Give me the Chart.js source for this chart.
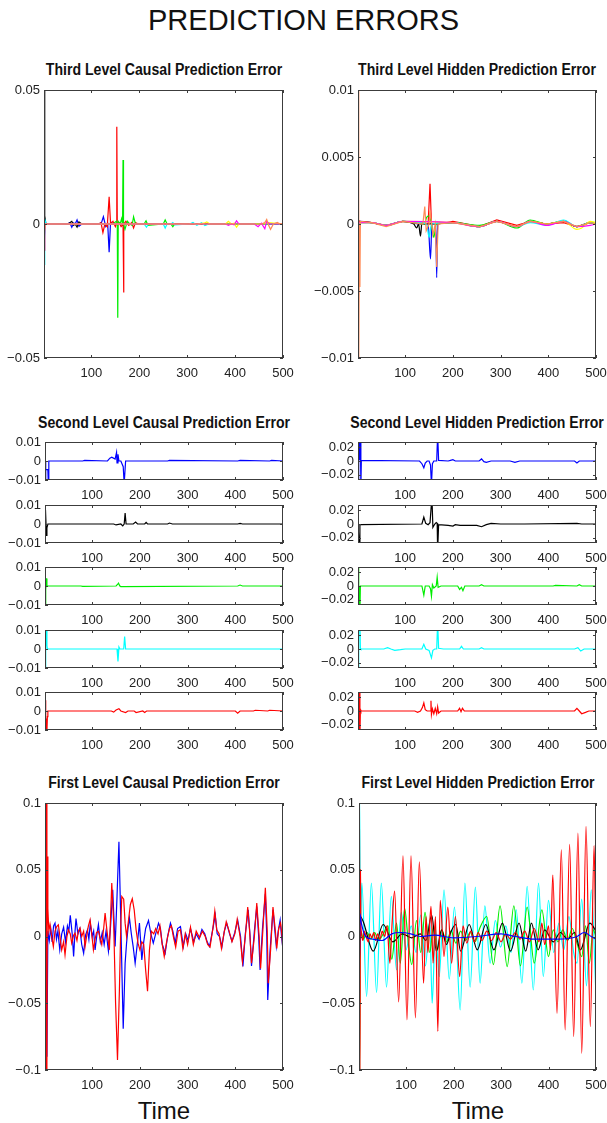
<!DOCTYPE html>
<html>
<head>
<meta charset="utf-8">
<title>Prediction errors</title>
<script src="https://cdn.jsdelivr.net/npm/chart.js@4.4.1/dist/chart.umd.min.js"></script>
<style>
  html, body { margin: 0; padding: 0; background: #fff; }
  #page { position: relative; width: 607px; height: 1123px; overflow: hidden; font-family: "Liberation Sans", Arial, sans-serif; color: #111; }
  #page canvas { position: absolute; }
  .txt { position: absolute; width: 320px; text-align: center; white-space: nowrap; line-height: 1; }
  .main { font-size: 29px; width: 607px; left: 0; }
  .sub { font-weight: bold; font-size: 16px; transform: scaleX(0.88); }
  .time { font-size: 24px; }
</style>
</head>
<body>
<div id="page">
  <div class="txt main" style="top:6px">PREDICTION ERRORS</div>
  <div class="txt sub" style="left:4px;top:62px">Third Level Causal Prediction Error</div>
  <div class="txt sub" style="left:317px;top:62px">Third Level Hidden Prediction Error</div>
  <div class="txt sub" style="left:4px;top:415px">Second Level Causal Prediction Error</div>
  <div class="txt sub" style="left:317px;top:415px">Second Level Hidden Prediction Error</div>
  <div class="txt sub" style="left:4px;top:775px">First Level Causal Prediction Error</div>
  <div class="txt sub" style="left:318px;top:775px">First Level Hidden Prediction Error</div>
  <div class="txt time" style="left:4px;top:1099px">Time</div>
  <div class="txt time" style="left:318px;top:1099px">Time</div>
</div>
<script>
// tick values
const timeTicks = [100, 200, 300, 400, 500];
const c3Ticks = [-0.05, 0, 0.05];
const h3Ticks = [-0.01, -0.005, 0, 0.005, 0.01];
const c2Ticks = [-0.01, 0, 0.01];
const h2Ticks = [-0.02, 0, 0.02];
const c1Ticks = [-0.1, -0.05, 0, 0.05, 0.1];

// third level, causal errors
const c3BlueT = [1, 2, 4, 50, 55, 59, 63, 66, 70, 74, 80, 115, 121, 125, 130, 134, 137, 140, 145, 160, 500];
const c3BlueV = [0, -0.004, 0, 0, 0.0005, -0.0012, 0.0004, 0, 0.0015, -0.0008, 0, 0, 0.0005, 0.0027, -0.001, 0, -0.0105, 0.0008, 0, 0, 0];
const c3BlackT = [1, 2, 3, 5, 50, 55, 59, 63, 66, 70, 74, 80, 500];
const c3BlackV = [0, 0.05, 0.003, 0, 0, 0.0005, 0.001, -0.0005, 0, -0.0012, 0.0008, 0, 0];
const c3RedT = [1, 2, 4, 115, 120, 124, 128, 133, 137, 140, 145, 150, 152, 153, 154, 158, 162, 166, 167, 168, 172, 178, 184, 188, 192, 198, 500];
const c3RedV = [0, -0.002, 0, 0, 0.0005, -0.0032, 0, -0.001, 0.0102, 0, 0.001, -0.001, 0, 0.0363, 0, 0.0005, -0.001, 0, -0.0256, 0, 0.001, -0.0005, 0.0005, -0.0015, 0.0005, 0, 0];
const c3GreenT = [1, 3, 145, 152, 154, 155, 156, 160, 163, 165, 166, 167, 170, 175, 180, 185, 188, 192, 210, 214, 218, 250, 254, 258, 266, 270, 274, 500];
const c3GreenV = [0, 0, 0, 0.001, 0, -0.035, 0.001, 0, 0.002, 0, 0.0239, 0, -0.002, 0.001, 0, -0.0005, 0.0027, 0, 0, 0.0012, -0.0005, 0, 0.0015, 0, 0, -0.001, 0, 0];
const c3CyanT = [1, 2, 3, 4, 6, 210, 215, 219, 250, 254, 258, 266, 270, 274, 305, 312, 320, 330, 337, 345, 500];
const c3CyanV = [0, -0.0153, -0.006, 0.001, 0, 0, -0.0012, 0, 0, -0.0015, 0, 0, 0.0005, -0.0003, 0, 0.0006, -0.0005, 0.0005, -0.0006, 0, 0];
const c3YellowT = [1, 320, 335, 341, 347, 380, 386, 392, 398, 403, 408, 460, 470, 500];
const c3YellowV = [0, 0, 0.0003, 0.0008, 0, 0, 0.001, 0, 0.0003, -0.0012, 0, 0, 0.0005, 0];
const c3MagentaT = [1, 2, 3, 4, 380, 386, 392, 398, 403, 408, 440, 448, 455, 462, 466, 472, 500];
const c3MagentaV = [0, -0.01, -0.002, 0, 0, -0.0005, 0, -0.0003, 0.0012, 0, 0, -0.001, 0.0003, -0.0018, 0.001, 0, 0];
const c3OrangeT = [1, 2, 3, 4, 455, 462, 466, 470, 474, 480, 488, 494, 500];
const c3OrangeV = [0, -0.01, -0.003, 0, 0, 0.0005, 0.0017, -0.0005, -0.002, 0, 0.0006, 0, 0.0002];

// third level, hidden errors
const h3BlueT = [1, 2, 3, 5, 30, 60, 95, 130, 148, 153, 156, 164, 166, 168, 200, 256, 292, 334, 362, 397, 432, 460, 488, 500];
const h3BlueV = [0, 0, -0.0012, 0.0002, 0.0001, -0.0001, 0.0002, 0, 0, -0.0026, 0, 0, -0.004, 0, 0.0001, -0.0002, 0.0002, -0.0002, 0.0002, 0, 0.0002, -0.0002, 0.0001, 0];
const h3BlackT = [1, 4, 30, 60, 95, 118, 124, 128, 132, 135, 140, 200, 256, 292, 334, 362, 397, 432, 460, 488, 500];
const h3BlackV = [0.0003, 0.0002, 0.0001, -0.0001, 0.0002, 0, -0.0003, 0, -0.0009, 0.0001, 0, 0.0001, -0.0002, 0.0002, -0.0002, 0.0002, 0, 0.0002, -0.0002, 0.0001, 0];
const h3RedT = [1, 4, 30, 60, 95, 140, 148, 152, 155, 160, 170, 200, 256, 292, 334, 362, 397, 432, 460, 488, 500];
const h3RedV = [0, 0.0002, 0.0001, -0.0001, 0.0002, 0, 0, 0.003, 0, 0, 0, 0.0002, -0.0002, 0.0003, -0.0001, 0.0002, 0, 0.0001, -0.0002, 0.0001, 0];
const h3GreenT = [1, 4, 30, 60, 95, 140, 145, 150, 155, 160, 165, 200, 256, 292, 334, 362, 397, 432, 460, 488, 500];
const h3GreenV = [0, 0.0001, 0.0001, -0.0001, 0.0002, 0, 0.0005, 0.0006, 0, -0.001, 0, 0.0001, -0.0001, 0.0002, -0.0003, 0.0003, 0, 0.0002, -0.0002, 0.0001, 0];
const h3CyanT = [1, 4, 30, 60, 95, 145, 150, 155, 200, 256, 292, 334, 362, 397, 432, 460, 488, 500];
const h3CyanV = [0, 0.0001, 0.0001, -0.0001, 0.0002, 0, -0.001, 0, 0.0001, -0.0002, 0.0002, -0.0002, 0.0001, -0.0001, 0.0003, -0.0002, 0.0001, 0];
const h3YellowT = [1, 4, 30, 60, 95, 200, 256, 292, 334, 362, 397, 432, 460, 470, 488, 500];
const h3YellowV = [0, 0.0001, 0.0001, -0.0001, 0.0002, 0.0001, -0.0002, 0.0002, -0.0002, 0.0002, 0, 0.0002, -0.0004, -0.0003, 0.0002, 0.0001];
const h3MagentaT = [1, 4, 30, 60, 95, 200, 256, 292, 334, 362, 397, 432, 460, 488, 500];
const h3MagentaV = [0, 0.0001, 0.0001, -0.0001, 0.0002, 0.0001, -0.0002, 0.0002, -0.0002, 0.0002, -0.0001, 0.0002, -0.0002, -0.0001, 0];
const h3OrangeT = [1, 2, 3, 4, 5, 6, 30, 60, 95, 137, 141, 144, 150, 152, 158, 163, 166, 169, 200, 256, 292, 334, 362, 397, 432, 460, 488, 500];
const h3OrangeV = [0, 0.011, -0.011, 0, -0.0047, 0.0002, 0.0001, -0.0002, 0.0002, 0, 0.0013, -0.0005, 0, 0.001, -0.0008, 0, -0.0032, 0, 0.0001, -0.0002, 0.0002, -0.0002, 0.0002, 0, 0.0002, -0.0002, 0.0001, 0];

// second level, causal errors (one panel per state)
const c2BlueT = [1, 2, 3, 7, 8, 9, 80, 84, 132, 137, 141, 148, 151, 152, 154, 156, 160, 165, 167, 168, 170, 258, 262, 405, 410, 472, 476, 500];
const c2BlueV = [0, -0.012, -0.0045, -0.0045, -0.012, 0, 0, 0.0003, 0, 0.0015, 0.002, 0.001, 0.0045, -0.001, 0.0035, 0, 0, -0.003, -0.012, -0.012, 0, 0, 0.0003, 0, 0.0003, 0, 0.0003, 0];
const c2BlackT = [1, 2, 4, 5, 7, 145, 150, 160, 164, 167, 169, 171, 186, 191, 195, 210, 213, 216, 258, 262, 268, 405, 410, 415, 500];
const c2BlackV = [0, 0.0075, -0.006, -0.002, 0, 0, -0.0005, 0, -0.001, 0, 0.0057, 0, 0, 0.001, 0, 0, 0.0008, 0, 0, 0.0005, 0, 0, 0.0003, 0, 0];
const c2GreenT = [1, 2, 3, 4, 5, 76, 80, 150, 153, 155, 158, 160, 405, 410, 415, 500];
const c2GreenV = [0, -0.011, -0.002, 0.004, 0, 0, -0.0002, 0, 0.0008, 0.0015, 0, -0.0003, 0, 0.0005, 0, 0];
const c2CyanT = [1, 2, 3, 4, 5, 6, 150, 152, 154, 156, 158, 164, 166, 168, 170, 500];
const c2CyanV = [0, -0.011, 0.001, 0.011, 0.002, 0, 0, 0, -0.0065, 0.001, 0, 0, 0, 0.0065, 0, 0];
const c2RedT = [1, 2, 3, 4, 5, 6, 7, 140, 145, 150, 156, 160, 170, 175, 188, 192, 206, 210, 214, 400, 405, 410, 438, 442, 468, 472, 500];
const c2RedV = [0, 0.0057, -0.011, -0.004, -0.011, -0.003, 0, 0, -0.0006, 0.0005, 0.0012, 0, -0.0008, 0, 0, -0.0008, 0, -0.0008, 0, 0, -0.0012, 0, 0, 0.0004, 0, 0.0004, 0];

// second level, hidden errors (one panel per state)
const h2BlueT = [1, 2, 3, 4, 6, 7, 8, 130, 135, 139, 142, 146, 150, 153, 155, 157, 160, 166, 168, 170, 190, 195, 200, 205, 255, 260, 265, 270, 280, 320, 330, 340, 455, 460, 465, 500];
const h2BlueV = [0, -0.04, 0.04, 0.001, 0.04, -0.04, 0.001, 0, -0.004, -0.01, -0.003, 0, 0, -0.006, -0.035, -0.004, 0, 0, 0.04, 0.001, 0, 0.001, 0.002, 0, 0, 0.003, -0.001, -0.002, 0, 0, -0.002, 0, 0, -0.003, 0, 0];
const h2BlackT = [1, 3, 4, 5, 135, 139, 143, 148, 152, 156, 158, 162, 165, 167, 168, 170, 190, 200, 205, 215, 250, 260, 270, 280, 300, 350, 460, 470, 500];
const h2BlackV = [0, 0, -0.04, -0.001, 0, 0.01, 0.001, -0.001, 0.002, 0.04, -0.005, 0, 0.002, 0.001, -0.04, -0.001, -0.002, -0.003, -0.001, -0.002, -0.002, -0.004, -0.001, 0.001, 0, 0, 0.001, 0, 0];
const h2GreenT = [1, 2, 3, 4, 5, 6, 135, 139, 142, 150, 153, 155, 157, 160, 165, 167, 169, 175, 210, 214, 218, 221, 225, 255, 260, 265, 410, 415, 460, 465, 470, 500];
const h2GreenV = [0, 0.04, -0.04, 0, -0.04, 0, 0, -0.0135, 0, 0, -0.004, -0.015, 0.002, -0.003, 0, 0.013, -0.002, 0, 0, -0.005, -0.002, -0.007, 0, 0, 0.002, 0, 0, 0.001, 0, 0.002, 0, 0];
const h2CyanT = [1, 2, 3, 5, 6, 7, 55, 63, 70, 78, 90, 100, 135, 139, 143, 150, 155, 158, 162, 166, 168, 170, 180, 214, 218, 222, 255, 260, 265, 455, 462, 468, 475, 500];
const h2CyanV = [0, -0.04, 0.04, 0.04, 0.001, 0, 0, 0.002, 0, -0.002, -0.001, 0, 0, 0.007, 0, -0.002, -0.013, -0.002, 0, 0, 0.04, 0.001, 0, 0, 0.004, 0, 0, 0.002, 0, 0, 0.002, -0.003, 0, 0];
const h2RedT = [1, 2, 3, 4, 5, 6, 7, 120, 126, 132, 136, 139, 142, 146, 152, 154, 155, 157, 160, 163, 166, 168, 170, 175, 210, 214, 217, 220, 224, 455, 460, 465, 470, 478, 485, 500];
const h2RedV = [0, 0.04, -0.04, 0.04, -0.04, 0.002, 0, 0, -0.002, 0, 0.005, 0.012, 0.002, 0, 0, 0.015, -0.005, 0.003, -0.004, 0.004, -0.004, 0.006, -0.003, 0, 0, 0.004, -0.001, 0.004, 0, 0, 0.004, 0, -0.004, -0.002, 0, 0];

// first level, causal errors
const c1BlueT = [1, 3, 5, 7, 10, 13, 16, 19, 22, 25, 28, 32, 36, 40, 44, 48, 51, 54, 58, 61, 64, 66, 70, 74, 78, 82, 86, 90, 93, 96, 100, 103, 106, 110, 113, 117, 121, 125, 129, 134, 138, 143, 148, 152, 156, 160, 165, 169, 172, 175, 178, 182, 186, 190, 195, 199, 204, 208, 212, 218, 223, 228, 233, 239, 243, 247, 253, 258, 264, 269, 274, 279, 285, 291, 296, 301, 306, 313, 318, 324, 330, 336, 341, 346, 352, 358, 362, 367, 372, 377, 382, 388, 393, 399, 405, 411, 416, 421, 427, 431, 434, 440, 445, 449, 452, 457, 463, 466, 468, 473, 479, 483, 486, 490, 494, 497, 500];
const c1BlueV = [0, 0.012, -0.09, 0.004, -0.003, 0.006, -0.004, 0.008, 0.0101, -0.002, 0.004, -0.01, 0.002, 0.007, -0.004, 0.008, 0.004, 0.0158, 0.002, -0.015, 0.004, 0.0135, 0.002, 0.006, -0.006, -0.0125, 0.001, 0.005, -0.002, 0.01, 0, 0.004, -0.01, 0.002, 0.009, -0.004, 0.003, -0.006, 0.004, -0.011, 0.005, 0.035, -0.0075, 0.03, 0.071, 0.01, -0.069, -0.02, -0.005, 0.006, 0.014, 0.002, -0.008, -0.02, -0.004, 0.01, -0.0175, -0.004, 0.006, 0.012, 0.002, -0.005, 0.002, 0.01, 0.006, -0.006, -0.0125, 0, 0.01, 0.004, -0.005, 0.006, 0.0075, -0.0075, 0.002, -0.003, 0.006, -0.004, 0.002, -0.002, 0.0053, 0.002, -0.004, -0.0075, 0.004, 0.016, 0.002, 0, -0.0075, 0.004, 0.01, 0.002, -0.0035, 0.003, 0.0122, 0, -0.0225, 0.002, 0.02, 0, -0.022, 0.004, 0.0225, 0, -0.025, 0.006, 0.032, 0, -0.0475, -0.01, 0.02, 0.004, -0.0075, 0.004, 0.0122, 0, -0.01];
const c1RedT = [1, 2, 3, 4, 5, 6, 7, 9, 11.5, 15, 18.5, 22, 25.5, 29, 33, 36, 40, 43, 47, 50, 54, 57, 61, 64, 68, 71, 74.5, 78, 82, 85, 89, 92, 95.5, 99, 102.5, 106, 109, 113, 117, 120, 124, 127, 131, 136, 141, 145, 149, 153, 157, 160, 162, 166, 169, 172, 176, 180, 184, 188, 192, 196, 200, 204, 208, 212, 216, 220, 224, 229, 233, 238, 242, 246, 251, 256, 262, 266, 270, 275, 280, 285, 290, 295, 300, 306, 312, 318, 325, 331, 337, 342, 347, 353, 357, 361, 366, 371, 376, 381, 387, 393, 399, 404, 410, 415, 421, 426, 430, 434, 440, 445, 450, 453, 458, 463, 467, 469, 474, 479, 484, 487, 491, 495, 498, 500];
const c1RedV = [0, 0.1, -0.1, 0.1, -0.1, 0.06, 0.021, 0.004, 0.009, 0, -0.0075, 0.004, 0.0075, 0.0088, -0.002, -0.01, -0.004, -0.0137, 0, 0.005, 0.002, -0.005, 0.001, 0.0025, -0.003, 0.004, 0.0063, 0, 0.004, -0.0075, 0.002, 0.008, 0.0125, 0.002, -0.01, -0.002, 0.003, 0.004, -0.002, -0.006, 0.006, 0.0175, 0.004, -0.01, 0.04, 0.01, -0.05, -0.0925, -0.04, 0.01, 0.03, 0.028, 0.01, 0, 0.012, 0.024, 0.0283, 0.02, 0.005, -0.005, -0.01, -0.004, -0.006, -0.025, -0.041, -0.01, 0.004, 0.002, 0.006, 0.002, 0.008, -0.004, -0.015, -0.004, 0.006, 0.008, 0, -0.008, 0.004, 0.005, -0.009, 0.002, -0.006, 0.007, -0.006, 0.004, -0.001, 0.004, 0, -0.006, -0.008, 0.006, 0.019, 0.005, 0.002, -0.009, 0.002, 0.011, 0.004, -0.004, 0.002, 0.013, 0, -0.019, 0, 0.022, 0.004, -0.02, 0, 0.025, 0, -0.024, 0.006, 0.0365, 0.004, -0.035, -0.01, 0.022, 0.004, -0.009, 0.006, 0.01, 0, -0.012];

// first level, hidden errors
const h1CyanT = [1, 2, 4, 7, 17, 27, 38, 48, 59, 69, 80, 90, 100, 111, 121, 131, 141, 150, 155, 162, 170, 180, 191, 202, 214, 224, 235, 246, 256, 266, 277, 288, 299, 310, 321, 332, 344, 355, 368, 379, 389, 400, 411, 422, 432, 443, 453, 460, 470, 480, 490, 500];
const h1CyanV = [0, 0.11, 0.01, 0.04, -0.045, 0.04, -0.042, 0.04, -0.038, 0.03, -0.025, 0.018, -0.01, 0.008, -0.012, 0.016, -0.022, 0.012, -0.05, 0.006, -0.03, 0.035, -0.032, 0.022, -0.055, 0.04, -0.038, 0.037, -0.035, 0.023, -0.02, 0.012, -0.008, 0.008, -0.012, 0.02, -0.035, 0.0375, -0.04, 0.04, -0.03, 0.027, -0.012, 0.01, -0.01, 0.015, -0.012, -0.02, 0.028, -0.037, 0.035, -0.044];
const h1GreenT = [1, 2, 3, 5, 10, 18, 26, 34, 42, 52, 62, 70, 80, 88, 97, 105, 112, 122, 131, 140, 150, 158, 166, 175, 185, 195, 205, 215, 225, 235, 245, 255, 270, 284, 298, 313, 327, 341, 355, 370, 386, 400, 410, 420, 430, 440, 450, 460, 470, 478, 486, 494, 500];
const h1GreenV = [0, -0.11, -0.03, 0.004, -0.002, 0.003, -0.002, 0.003, -0.003, 0.002, 0.008, -0.017, 0.01, -0.02, 0.021, -0.005, -0.021, 0.012, -0.012, 0.018, -0.012, 0.008, -0.01, 0.005, -0.004, 0.004, -0.005, 0.004, -0.003, 0.003, -0.004, 0.006, 0.015, -0.021, 0.023, -0.0225, 0.023, -0.022, 0.022, -0.02, 0.02, -0.015, 0.005, -0.004, 0.005, -0.003, 0.006, -0.005, -0.015, 0.008, -0.02, 0.005, 0];
const h1BlackT = [1, 2, 4, 10, 31, 52, 72, 92, 112, 130, 142, 154, 164, 175, 185, 195, 205, 215, 233, 250, 268, 285, 303, 320, 338, 352, 364, 378, 392, 410, 425, 440, 455, 467, 487, 500];
const h1BlackV = [0, -0.02, 0.015, 0.011, -0.011, 0.009, -0.004, 0.002, -0.001, 0.002, -0.003, 0.016, -0.011, 0.005, -0.006, 0.004, 0.009, -0.011, 0.009, -0.01, 0.009, -0.01, 0.01, -0.011, 0.01, -0.011, 0.01, -0.01, 0.005, -0.004, 0.003, -0.002, 0.003, -0.01, 0.01, 0.004];
const h1RedT = [1, 2, 3, 4, 5, 6, 9, 12, 16, 20, 24, 28, 32, 36, 40, 45, 50, 55, 60, 66, 71, 76, 84.5, 93.6, 102, 110.5, 119.8, 128, 137, 142, 146, 152.6, 157, 162, 167, 172, 180, 188, 196, 204, 213, 220, 228, 236, 244, 252, 260, 270, 280, 290, 300, 310, 320, 330, 340, 350, 360, 370, 380, 386, 392, 400, 404, 409, 418, 427, 435, 444.5, 453, 462, 470, 479, 488, 496, 500];
const h1RedV = [0, 0.11, -0.11, 0.05, 0.01, 0.003, -0.003, 0.004, 0, -0.004, 0.002, -0.001, 0.003, -0.003, 0.002, -0.002, 0.004, 0, 0.008, -0.02, 0.012, 0.034, -0.049, 0.0605, -0.0625, 0.0605, -0.061, 0.056, -0.035, 0.015, -0.012, 0.0225, -0.02, 0.015, -0.071, 0.027, -0.015, 0.022, -0.02, 0.015, -0.03, 0.008, -0.005, 0.004, -0.004, 0.003, -0.003, 0.004, -0.003, 0.003, -0.004, 0.002, -0.002, 0.003, -0.002, 0.004, -0.004, 0.006, -0.004, 0.01, -0.006, 0.008, -0.01, 0.046, -0.0575, 0.065, -0.07, 0.069, -0.075, 0.0775, -0.0875, 0.0825, -0.0675, 0.068, -0.03];
const h1BlueT = [1, 2, 3, 6, 15, 30, 50, 70, 90, 110, 130, 160, 200, 250, 300, 330, 370, 420, 460, 475, 490, 500];
const h1BlueV = [0, -0.02, 0.017, 0.01, 0, -0.002, -0.003, 0.002, 0.003, 0.002, 0, 0.001, -0.001, 0, 0.002, 0, -0.002, -0.002, 0, 0.003, 0, -0.002];

const BLUE = '#0000ff', BLACK = '#000000', RED = '#ff0000', GREEN = '#00ee00',
      CYAN = '#00ffff', YELLOW = '#ffff00', MAGENTA = '#ff00ff', ORANGE = '#ff8a55';

const tickFont = { family: '"Liberation Sans", Arial, sans-serif', size: 13 };

function line(t, v, color, smooth) {
  return {
    data: t.map((x, i) => ({ x: x, y: v[i] })),
    borderColor: color,
    borderWidth: 1.2,
    pointRadius: 0,
    fill: false,
    tension: 0,
    cubicInterpolationMode: smooth ? 'monotone' : 'default'
  };
}

function fmt(v) {
  return String(v).replace('-', '\u2212');
}

// box around the axes with short inward ticks on all four sides
const axesBox = {
  id: 'axesBox',
  afterDatasetsDraw(chart) {
    const { ctx, chartArea: a, scales } = chart;
    const len = 3;
    ctx.save();
    ctx.strokeStyle = '#3c3c3c';
    ctx.lineWidth = 1;
    ctx.strokeRect(a.left + 0.5, a.top + 0.5, a.right - a.left - 1, a.bottom - a.top - 1);
    ctx.beginPath();
    scales.x.ticks.forEach(tk => {
      const x = Math.round(scales.x.getPixelForValue(tk.value)) + 0.5;
      ctx.moveTo(x, a.bottom); ctx.lineTo(x, a.bottom - len);
      ctx.moveTo(x, a.top); ctx.lineTo(x, a.top + len);
    });
    scales.y.ticks.forEach(tk => {
      const y = Math.round(scales.y.getPixelForValue(tk.value)) + 0.5;
      ctx.moveTo(a.left, y); ctx.lineTo(a.left + len, y);
      ctx.moveTo(a.right, y); ctx.lineTo(a.right - len, y);
    });
    ctx.stroke();
    ctx.restore();
  }
};

const page = document.getElementById('page');

// one axes: box = plot area in page pixels
function panel(box, yMin, yMax, yTicks, series) {
  const padL = 46, padR = 16, padT = 9, padB = 28;
  const cv = document.createElement('canvas');
  cv.width = box.w + padL + padR;
  cv.height = box.h + padT + padB;
  cv.style.left = (box.x - padL) + 'px';
  cv.style.top = (box.y - padT) + 'px';
  page.appendChild(cv);

  new Chart(cv, {
    type: 'line',
    data: { datasets: series.slice().reverse() },
    options: {
      responsive: false,
      animation: false,
      events: [],
      layout: { padding: { top: padT, right: padR, left: 0, bottom: 0 } },
      plugins: { legend: { display: false }, tooltip: { enabled: false } },
      scales: {
        x: {
          type: 'linear', min: 1, max: 500,
          grid: { display: false, drawTicks: false },
          border: { display: false },
          afterBuildTicks: s => { s.ticks = timeTicks.map(value => ({ value })); },
          afterFit: s => { s.height = padB; s.paddingLeft = 0; s.paddingRight = 0; },
          ticks: { font: tickFont, color: '#222', padding: 8, maxRotation: 0, autoSkip: false }
        },
        y: {
          type: 'linear', min: yMin, max: yMax,
          grid: { display: false, drawTicks: false },
          border: { display: false },
          afterBuildTicks: s => { s.ticks = yTicks.map(value => ({ value })); },
          afterFit: s => { s.width = padL; s.paddingTop = 0; s.paddingBottom = 0; },
          ticks: { font: tickFont, color: '#222', padding: 4, autoSkip: false, callback: fmt }
        }
      }
    },
    plugins: [axesBox]
  });
}

// third level
panel({ x: 44, y: 90, w: 239, h: 268 }, -0.05, 0.05, c3Ticks, [
  line(c3BlueT, c3BlueV, BLUE), line(c3BlackT, c3BlackV, BLACK), line(c3RedT, c3RedV, RED),
  line(c3GreenT, c3GreenV, GREEN), line(c3CyanT, c3CyanV, CYAN), line(c3YellowT, c3YellowV, YELLOW),
  line(c3MagentaT, c3MagentaV, MAGENTA), line(c3OrangeT, c3OrangeV, ORANGE)
]);
panel({ x: 358, y: 90, w: 238, h: 268 }, -0.01, 0.01, h3Ticks, [
  line(h3BlueT, h3BlueV, BLUE, true), line(h3BlackT, h3BlackV, BLACK, true), line(h3RedT, h3RedV, RED),
  line(h3GreenT, h3GreenV, GREEN, true), line(h3CyanT, h3CyanV, CYAN, true), line(h3YellowT, h3YellowV, YELLOW, true),
  line(h3MagentaT, h3MagentaV, MAGENTA, true), line(h3OrangeT, h3OrangeV, ORANGE)
]);

// second level, five stacked axes per column
const rowTops = [442, 505, 567, 630, 692];
const c2Rows = [[c2BlueT, c2BlueV, BLUE], [c2BlackT, c2BlackV, BLACK], [c2GreenT, c2GreenV, GREEN], [c2CyanT, c2CyanV, CYAN], [c2RedT, c2RedV, RED]];
const h2Rows = [[h2BlueT, h2BlueV, BLUE], [h2BlackT, h2BlackV, BLACK], [h2GreenT, h2GreenV, GREEN], [h2CyanT, h2CyanV, CYAN], [h2RedT, h2RedV, RED]];
rowTops.forEach((top, i) => {
  panel({ x: 45, y: top, w: 238, h: 38 }, -0.01, 0.01, c2Ticks, [line(c2Rows[i][0], c2Rows[i][1], c2Rows[i][2])]);
  panel({ x: 358, y: top, w: 238, h: 38 }, -0.028, 0.028, h2Ticks, [line(h2Rows[i][0], h2Rows[i][1], h2Rows[i][2])]);
});

// first level
panel({ x: 45, y: 803, w: 238, h: 267 }, -0.1, 0.1, c1Ticks, [
  line(c1BlueT, c1BlueV, BLUE), line(c1RedT, c1RedV, RED)
]);
panel({ x: 359, y: 803, w: 237, h: 267 }, -0.1, 0.1, c1Ticks, [
  line(h1CyanT, h1CyanV, CYAN, true), line(h1GreenT, h1GreenV, GREEN, true), line(h1BlackT, h1BlackV, BLACK, true),
  line(h1RedT, h1RedV, RED, true), line(h1BlueT, h1BlueV, BLUE, true)
]);
</script>
</body>
</html>
